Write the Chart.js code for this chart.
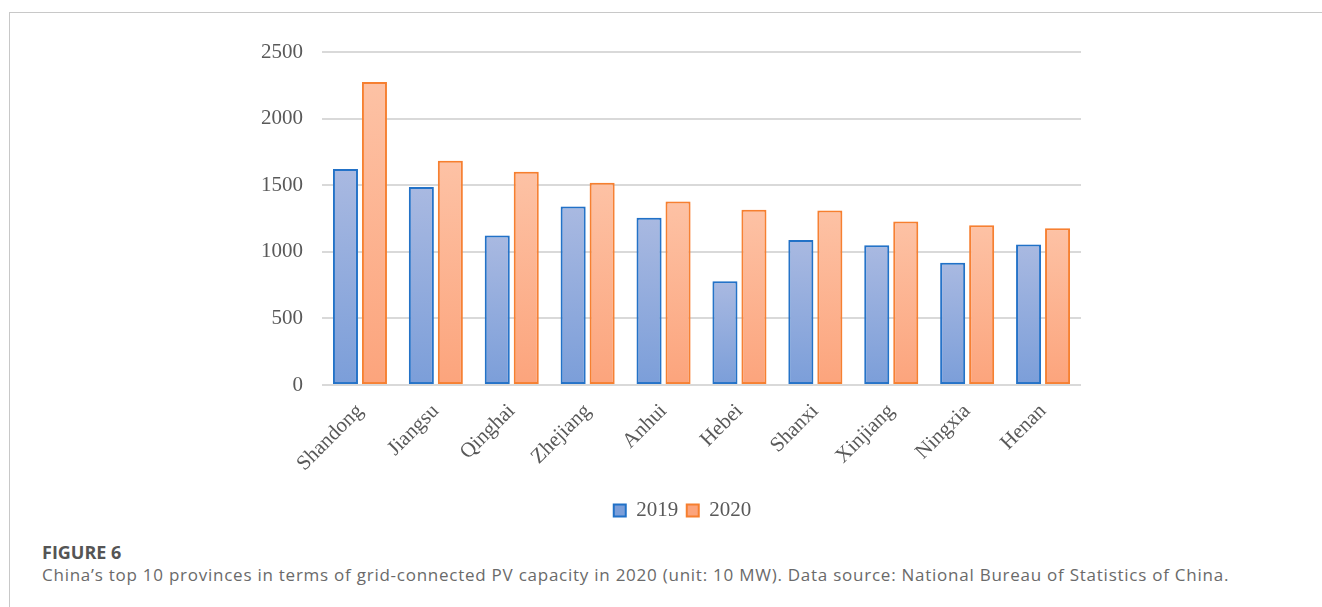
<!DOCTYPE html>
<html>
<head>
<meta charset="utf-8">
<title>Grid-connected PV capacity by province</title>
<script src="https://cdn.jsdelivr.net/npm/chart.js@4/dist/chart.umd.min.js"></script>
<style>
  html, body { margin: 0; padding: 0; background: #fff; }
  body { width: 1322px; height: 607px; position: relative; overflow: hidden; }
  .frame {
    position: absolute; left: 9px; top: 12px; right: 0; bottom: 0;
    border-top: 1px solid #c8c8c8; border-left: 1px solid #c8c8c8;
  }
  #chartWrap { position: absolute; left: 0; top: 0; width: 1322px; height: 540px; }
  .fig-label {
    position: absolute; left: 42px; top: 543px;
    font: bold 18px/18px "Open Sans", sans-serif; color: #555;
  }
  .fig-text {
    position: absolute; left: 42px; top: 566px; white-space: nowrap;
    font: 17px/17px "Open Sans", sans-serif; letter-spacing: 0.75px; color: #6a6a6a;
  }
</style>
</head>
<body>
<div class="frame"></div>
<div id="chartWrap"><canvas id="pvChart"></canvas></div>
<div class="fig-label">FIGURE 6</div>
<div class="fig-text">China’s top 10 provinces in terms of grid-connected PV capacity in 2020 (unit: 10 MW). Data source: National Bureau of Statistics of China.</div>

<script>
const provinces = ["Shandong", "Jiangsu", "Qinghai", "Zhejiang", "Anhui", "Hebei", "Shanxi", "Xinjiang", "Ningxia", "Henan"];
const cap2019 = [1621, 1486, 1122, 1340, 1255, 778, 1089, 1049, 918, 1054];
const cap2020 = [2274, 1684, 1601, 1519, 1378, 1315, 1310, 1227, 1200, 1177];
const yTicks = [0, 500, 1000, 1500, 2000, 2500];

const serif = "'Liberation Serif', 'Times New Roman', serif";
const tickColor = "#595959";

// vertical gradient for each bar, light at the top and deeper at the base
function barGradient(top, bottom) {
  return (c) => {
    const chart = c.chart;
    const y = chart.scales && chart.scales.y;
    if (c.type !== "data" || !y || !chart.chartArea) return bottom;
    const y0 = y.getPixelForValue(c.raw);
    const y1 = y.getPixelForValue(0);
    if (!isFinite(y0) || !isFinite(y1) || y0 === y1) return bottom;
    const g = chart.ctx.createLinearGradient(0, y0, 0, y1);
    g.addColorStop(0, top);
    g.addColorStop(1, bottom);
    return g;
  };
}

// soft glow around the bars
const barGlow = {
  id: "barGlow",
  beforeDatasetDraw(chart, args) {
    const ctx = chart.ctx;
    ctx.save();
    ctx.shadowColor = args.index === 0 ? "rgba(90,140,210,0.35)" : "rgba(250,150,100,0.35)";
    ctx.shadowBlur = 3;
    ctx.shadowOffsetY = 1;
  },
  afterDatasetDraw(chart) {
    chart.ctx.restore();
  }
};

// the legend sits a little right of the canvas centre
const legendShift = {
  id: "legendShift",
  afterLayout(chart) {
    const lg = chart.legend;
    if (!lg) return;
    lg.left += 31;
    lg.right += 31;
  }
};

new Chart(document.getElementById("pvChart"), {
  type: "bar",
  data: {
    labels: provinces,
    datasets: [
      {
        label: "2019",
        data: cap2019,
        backgroundColor: barGradient("#a9b9e1", "#7b9ed9"),
        borderColor: "#2171c7",
        borderWidth: 2,
        borderSkipped: false,
      },
      {
        label: "2020",
        data: cap2020,
        backgroundColor: barGradient("#fdc2a5", "#fca47c"),
        borderColor: "#f67f2f",
        borderWidth: 2,
        borderSkipped: false,
      },
    ],
  },
  options: {
    responsive: true,
    maintainAspectRatio: false,
    animation: false,
    events: [],
    categoryPercentage: 0.764,
    barPercentage: 0.862,
    layout: {
      padding: { left: 222, right: 241, top: 52, bottom: 9 },
    },
    scales: {
      x: {
        grid: { display: false },
        border: { display: false },
        ticks: {
          minRotation: 45,
          maxRotation: 45,
          autoSkip: false,
          padding: 6,
          color: tickColor,
          font: { family: serif, size: 21 },
        },
        afterFit(scale) {
          scale.height = 106.5;
        },
      },
      y: {
        min: 0,
        max: 2500,
        afterBuildTicks(scale) {
          scale.ticks = yTicks.map((v) => ({ value: v }));
        },
        grid: { color: "#d9d9d9", lineWidth: 2, drawTicks: false },
        border: { display: false },
        ticks: {
          padding: 19,
          color: tickColor,
          font: { family: serif, size: 21 },
          callback: (v) => String(v),
        },
        afterFit(scale) {
          scale.width = 100;
        },
      },
    },
    plugins: {
      tooltip: { enabled: false },
      legend: {
        position: "bottom",
        labels: {
          boxWidth: 12,
          boxHeight: 12,
          padding: 8.5,
          color: tickColor,
          font: { family: serif, size: 21 },
        },
      },
    },
  },
  plugins: [barGlow, legendShift],
});
</script>
</body>
</html>
